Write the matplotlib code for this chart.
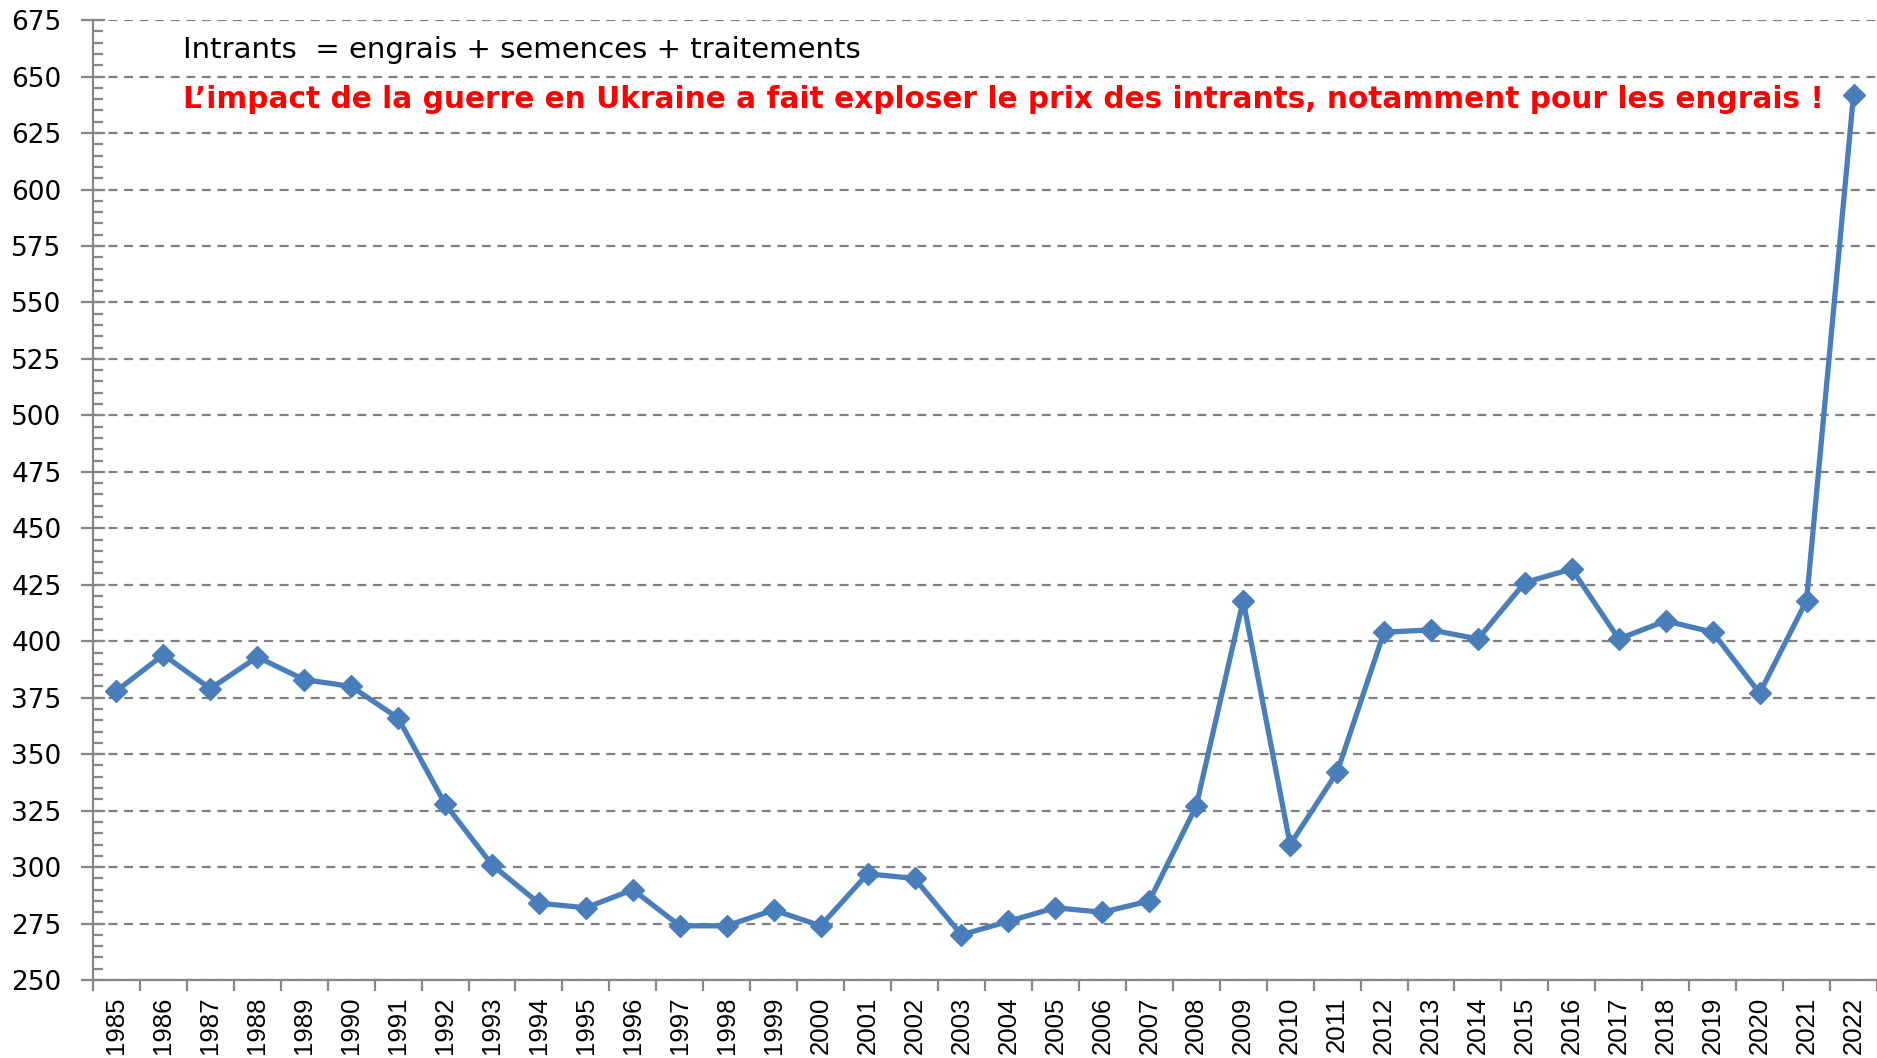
import matplotlib.pyplot as plt
from matplotlib.ticker import MultipleLocator, FixedLocator

years = [str(y) for y in range(1985, 2023)]
prix_intrants = [378, 394, 379, 393, 383, 380, 366, 328, 301, 284,
                 282, 290, 274, 274, 281, 274, 297, 295, 270, 276,
                 282, 280, 285, 327, 418, 310, 342, 404, 405, 401,
                 426, 432, 401, 409, 404, 377, 418, 642]

plt.rcParams['font.family'] = ['DejaVu Sans']

fig = plt.figure(figsize=(18.77, 10.58), dpi=100)
ax = fig.add_axes([0.0495, 0.0737, 0.9505, 0.9073])

x = list(range(len(years)))
ax.plot(x, prix_intrants, color='#4a7ebb', linewidth=3.8,
        marker='D', markersize=11, zorder=3)

ax.set_ylim(250, 675)
ax.set_xlim(-0.5, len(years) - 0.5)

ax.yaxis.set_major_locator(MultipleLocator(25))
ax.yaxis.set_minor_locator(MultipleLocator(5))
ax.grid(axis='y', which='major', linestyle=(0, (4, 3)), color='#808080', linewidth=1.6)
ax.set_axisbelow(True)

ax.set_xticks(x)
ax.set_xticklabels(years, rotation=90, fontsize=18.5, family='Liberation Sans')
ax.xaxis.set_minor_locator(FixedLocator([i - 0.5 for i in range(len(years) + 1)]))
ax.tick_params(axis='x', which='major', length=0, pad=12)
ax.tick_params(axis='x', which='minor', length=8, width=1.6, color='#868686', direction='out')
ax.tick_params(axis='y', which='major', labelsize=19, length=17, width=1.6,
               color='#868686', direction='inout', pad=14)
ax.tick_params(axis='y', which='minor', length=7, width=1.6, color='#868686', direction='in')

for side in ['top', 'right']:
    ax.spines[side].set_visible(False)
for side in ['left', 'bottom']:
    ax.spines[side].set_color('#868686')
    ax.spines[side].set_linewidth(1.6)

ax.text(0.0504, 0.969, 'Intrants  = engrais + semences + traitements',
        transform=ax.transAxes, fontsize=21, va='center', ha='left', color='black')
ax.text(0.0504, 0.917,
        "L\u2019impact de la guerre en Ukraine a fait exploser le prix des intrants, notamment pour les engrais !",
        transform=ax.transAxes, fontsize=21.3, fontweight='bold', va='center', ha='left', color='#ff0000')

fig.savefig('out.png', dpi=100)
